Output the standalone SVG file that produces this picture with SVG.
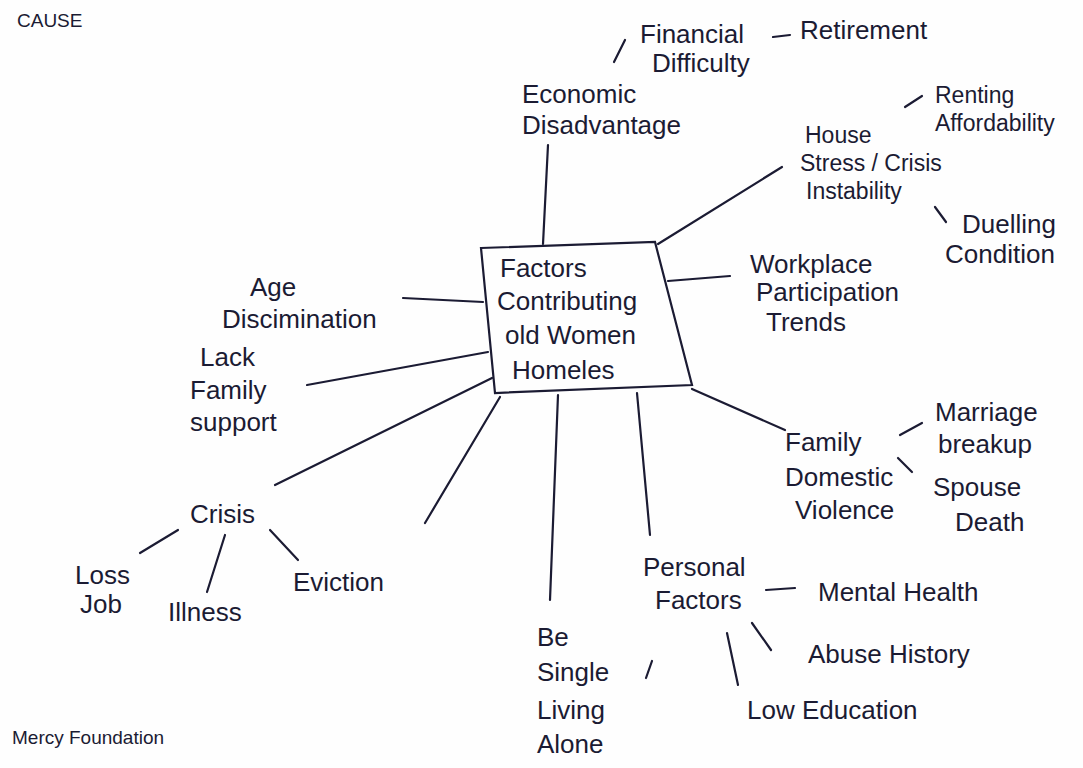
<svg xmlns="http://www.w3.org/2000/svg" width="1083" height="768" viewBox="0 0 1083 768">
<style>
.t{font-family:"Liberation Sans",Arial,sans-serif;font-size:26px;fill:#1b1b33}
.m{font-size:23px}
.s{font-size:19px}
.ln{stroke:#1b1b33;stroke-width:2.2;stroke-linecap:round;fill:none}
</style>
<rect width="1083" height="768" fill="#fefefe"/>
<text class="t s" x="17" y="27">CAUSE</text>
<text class="t s" x="12" y="744">Mercy Foundation</text>
<g id="connectors">
<line class="ln" x1="548" y1="145" x2="543" y2="244"/>
<line class="ln" x1="614" y1="62" x2="625" y2="40"/>
<line class="ln" x1="773" y1="37" x2="790" y2="35"/>
<line class="ln" x1="658" y1="244" x2="782" y2="167"/>
<line class="ln" x1="905" y1="107" x2="922" y2="96"/>
<line class="ln" x1="935" y1="207" x2="946" y2="222"/>
<line class="ln" x1="668" y1="281" x2="730" y2="276"/>
<line class="ln" x1="692" y1="389" x2="785" y2="430"/>
<line class="ln" x1="900" y1="435" x2="922" y2="423"/>
<line class="ln" x1="898" y1="458" x2="912" y2="472"/>
<line class="ln" x1="637" y1="393" x2="650" y2="535"/>
<line class="ln" x1="558" y1="395" x2="550" y2="600"/>
<line class="ln" x1="646" y1="678" x2="652" y2="661"/>
<line class="ln" x1="766" y1="590" x2="795" y2="588"/>
<line class="ln" x1="752" y1="623" x2="771" y2="650"/>
<line class="ln" x1="727" y1="633" x2="738" y2="685"/>
<line class="ln" x1="500" y1="397" x2="425" y2="523"/>
<line class="ln" x1="492" y1="378" x2="275" y2="485"/>
<line class="ln" x1="307" y1="385" x2="488" y2="352"/>
<line class="ln" x1="403" y1="298" x2="483" y2="302"/>
<line class="ln" x1="140" y1="553" x2="178" y2="530"/>
<line class="ln" x1="225" y1="535" x2="207" y2="592"/>
<line class="ln" x1="270" y1="530" x2="298" y2="560"/>
</g>
<g id="center">
<polygon class="ln" points="481,248 655,242 692,385 495,393"/>
<text class="t" x="500" y="277">Factors</text>
<text class="t" x="497" y="310">Contributing</text>
<text class="t" x="505" y="344">old Women</text>
<text class="t" x="512" y="379">Homeles</text>
</g>
<g id="economic">
<text class="t" x="522" y="103">Economic</text>
<text class="t" x="522" y="134">Disadvantage</text>
</g>
<g id="financial">
<text class="t" x="640" y="43">Financial</text>
<text class="t" x="652" y="72">Difficulty</text>
</g>
<g id="retirement"><text class="t" x="800" y="39">Retirement</text></g>
<g id="house">
<text class="t m" x="805" y="143">House</text>
<text class="t m" x="800" y="171">Stress / Crisis</text>
<text class="t m" x="806" y="199">Instability</text>
</g>
<g id="renting">
<text class="t m" x="935" y="103">Renting</text>
<text class="t m" x="935" y="131">Affordability</text>
</g>
<g id="dwelling">
<text class="t" x="962" y="233">Duelling</text>
<text class="t" x="945" y="263">Condition</text>
</g>
<g id="workplace">
<text class="t" x="750" y="273">Workplace</text>
<text class="t" x="756" y="301">Participation</text>
<text class="t" x="766" y="331">Trends</text>
</g>
<g id="family">
<text class="t" x="785" y="451">Family</text>
<text class="t" x="785" y="486">Domestic</text>
<text class="t" x="795" y="519">Violence</text>
</g>
<g id="marriage">
<text class="t" x="935" y="421">Marriage</text>
<text class="t" x="938" y="453">breakup</text>
</g>
<g id="spouse">
<text class="t" x="933" y="496">Spouse</text>
<text class="t" x="955" y="531">Death</text>
</g>
<g id="personal">
<text class="t" x="643" y="576">Personal</text>
<text class="t" x="655" y="609">Factors</text>
</g>
<g id="mental"><text class="t" x="818" y="601">Mental Health</text></g>
<g id="abuse"><text class="t" x="808" y="663">Abuse History</text></g>
<g id="education"><text class="t" x="747" y="719">Low Education</text></g>
<g id="single">
<text class="t" x="537" y="646">Be</text>
<text class="t" x="537" y="681">Single</text>
<text class="t" x="537" y="719">Living</text>
<text class="t" x="537" y="753">Alone</text>
</g>
<g id="age">
<text class="t" x="250" y="296">Age</text>
<text class="t" x="222" y="328">Discimination</text>
</g>
<g id="lack">
<text class="t" x="200" y="366">Lack</text>
<text class="t" x="190" y="399">Family</text>
<text class="t" x="190" y="431">support</text>
</g>
<g id="crisis"><text class="t" x="190" y="523">Crisis</text></g>
<g id="loss">
<text class="t" x="75" y="584">Loss</text>
<text class="t" x="80" y="613">Job</text>
</g>
<g id="illness"><text class="t" x="168" y="621">Illness</text></g>
<g id="eviction"><text class="t" x="293" y="591">Eviction</text></g>
</svg>
